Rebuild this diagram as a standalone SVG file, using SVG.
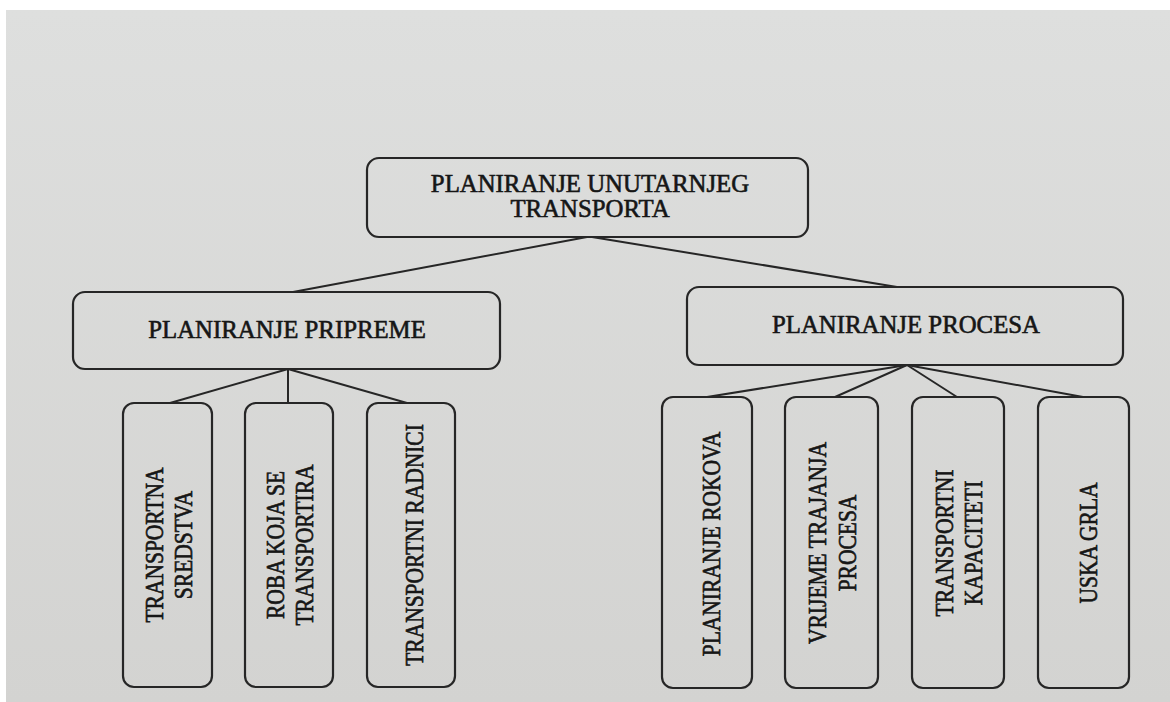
<svg xmlns="http://www.w3.org/2000/svg" width="1170" height="702" viewBox="0 0 1170 702">
<defs>
<linearGradient id="paper" x1="0" y1="0" x2="0" y2="1">
<stop offset="0" stop-color="#dedfde"/>
<stop offset="1" stop-color="#d3d3d1"/>
</linearGradient>
<style>
.box{fill:none;stroke:#262626;stroke-width:2.2}
.lbl{font-family:"Liberation Serif","Times New Roman",serif;font-size:24.8px;fill:#161616;text-anchor:middle;stroke:#161616;stroke-width:0.6}
.vl{font-family:"Liberation Serif","Times New Roman",serif;font-size:21.5px;fill:#161616;text-anchor:middle;stroke:#161616;stroke-width:0.55}
.conn line{stroke:#262626;stroke-width:2}
</style>
</defs>
<rect x="0" y="0" width="1170" height="702" fill="#ffffff"/>
<rect x="6" y="10" width="1164" height="692" fill="url(#paper)"/>

<g id="connectors" class="conn">
<line x1="587" y1="237" x2="293" y2="292"/>
<line x1="592" y1="237" x2="897" y2="287"/>
<line x1="288" y1="369" x2="170" y2="403"/>
<line x1="288" y1="369" x2="288" y2="403"/>
<line x1="288" y1="369" x2="407" y2="403"/>
<line x1="907" y1="365" x2="707" y2="397"/>
<line x1="907" y1="365" x2="835" y2="397"/>
<line x1="907" y1="365" x2="957" y2="397"/>
<line x1="907" y1="365" x2="1083" y2="397"/>
</g>

<g id="root">
<rect class="box" x="367" y="158" width="441" height="79" rx="12"/>
<text class="lbl" x="590" y="192">PLANIRANJE UNUTARNJEG</text>
<text class="lbl" x="590" y="217">TRANSPORTA</text>
</g>

<g id="priprema">
<rect class="box" x="73" y="292" width="427" height="77" rx="12"/>
<text class="lbl" x="287" y="338">PLANIRANJE PRIPREME</text>
</g>

<g id="procesa">
<rect class="box" x="687" y="287" width="436" height="78" rx="12"/>
<text class="lbl" x="906" y="333">PLANIRANJE PROCESA</text>
</g>

<g id="sredstva">
<rect class="box" x="123" y="403" width="89" height="284" rx="11"/>
<text class="vl" transform="translate(168.5,545) rotate(-90) scale(1,1.2)"><tspan x="0" y="-5">TRANSPORTNA</tspan><tspan x="0" y="19.2">SREDSTVA</tspan></text>
</g>

<g id="roba">
<rect class="box" x="245" y="403" width="88" height="284" rx="11"/>
<text class="vl" transform="translate(290,545) rotate(-90) scale(1,1.2)"><tspan x="0" y="-5">ROBA KOJA SE</tspan><tspan x="0" y="19.2">TRANSPORTIRA</tspan></text>
</g>

<g id="radnici">
<rect class="box" x="367" y="403" width="88" height="284" rx="11"/>
<text class="vl" transform="translate(414,545) rotate(-90) scale(1,1.2)"><tspan x="0" y="7.1">TRANSPORTNI RADNICI</tspan></text>
</g>

<g id="rokova">
<rect class="box" x="662" y="397" width="90" height="291" rx="11"/>
<text class="vl" transform="translate(711,544) rotate(-90) scale(1,1.2)"><tspan x="0" y="7.1">PLANIRANJE ROKOVA</tspan></text>
</g>

<g id="vrijeme">
<rect class="box" x="785" y="397" width="93" height="291" rx="11"/>
<text class="vl" transform="translate(832.5,543) rotate(-90) scale(1,1.2)"><tspan x="0" y="-5.8">VRIJEME TRAJANJA</tspan><tspan x="0" y="20">PROCESA</tspan></text>
</g>

<g id="kapaciteti">
<rect class="box" x="912" y="397" width="92" height="291" rx="11"/>
<text class="vl" transform="translate(959,543) rotate(-90) scale(1,1.2)"><tspan x="0" y="-5">TRANSPORTNI</tspan><tspan x="0" y="19.2">KAPACITETI</tspan></text>
</g>

<g id="grla">
<rect class="box" x="1038" y="397" width="91" height="291" rx="11"/>
<text class="vl" transform="translate(1088,543) rotate(-90) scale(1,1.2)"><tspan x="0" y="7.1">USKA GRLA</tspan></text>
</g>
</svg>
